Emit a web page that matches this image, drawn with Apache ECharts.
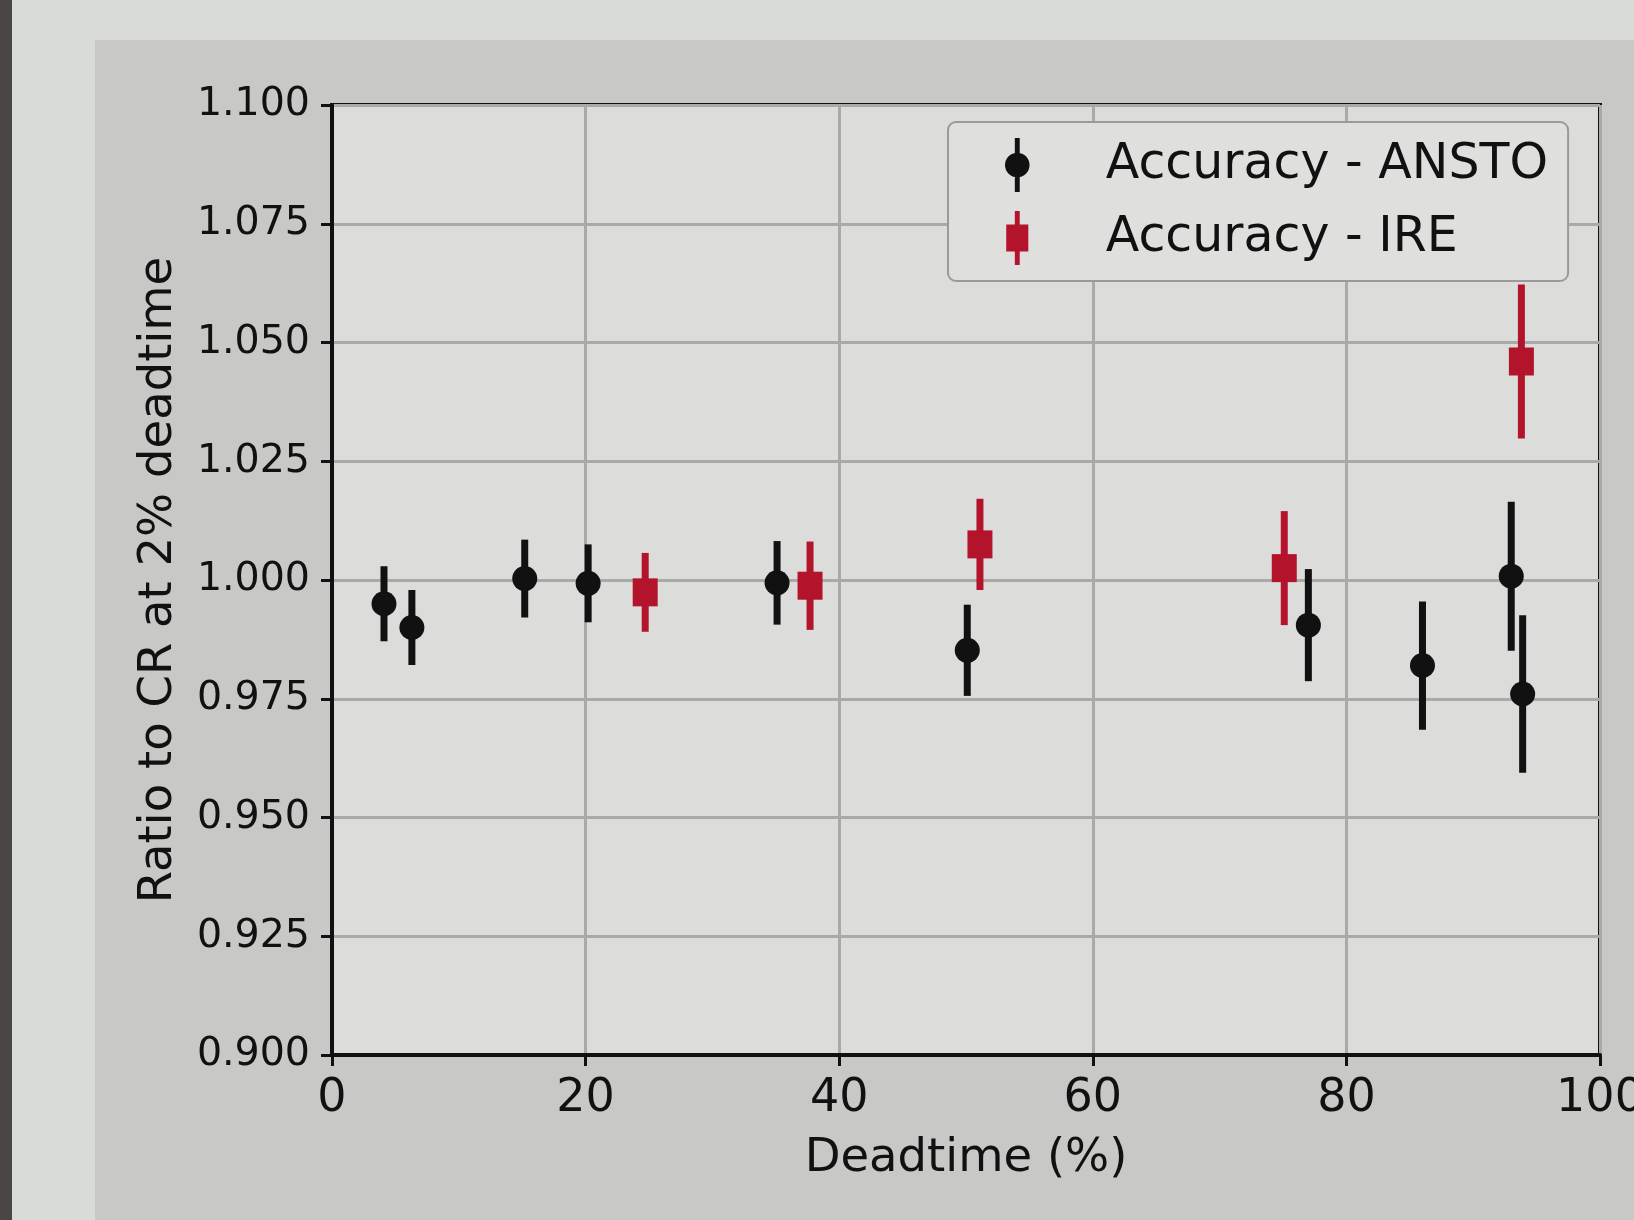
<!DOCTYPE html>
<html>
<head>
<meta charset="utf-8">
<script src="https://cdn.jsdelivr.net/npm/echarts@6/dist/echarts.min.js"></script>
<style>
  html, body { margin: 0; padding: 0; width: 1634px; height: 1220px; overflow: hidden; background: #d9dbd8; }
  #strip { position: absolute; left: 0; top: 0; width: 12px; height: 1220px; background: #4b4646; }
  #panel { position: absolute; left: 95px; top: 40px; width: 1539px; height: 1180px; background: #c8c8c6; }
  #chart { position: absolute; left: 0; top: 0; width: 1634px; height: 1220px; }
</style>
</head>
<body>
<div id="strip"></div>
<div id="panel"></div>
<div id="chart"></div>
<script>
// ---- data ----
const ansto_x   = [4.1, 6.3, 15.2, 20.2, 35.1, 50.1, 77.0, 86.0, 93.0, 93.9];
const ansto_y   = [0.995, 0.990, 1.0003, 0.9993, 0.9994, 0.9852, 0.9905, 0.9820, 1.0008, 0.9760];
const ansto_err = [0.0079, 0.0079, 0.0082, 0.0082, 0.0088, 0.0096, 0.0118, 0.0135, 0.0157, 0.0166];

const ire_x   = [24.7, 37.7, 51.1, 75.1, 93.8];
const ire_y   = [0.9974, 0.9988, 1.0075, 1.0025, 1.0460];
const ire_err = [0.0083, 0.0093, 0.0096, 0.0120, 0.0162];

const xTicks = [0, 20, 40, 60, 80, 100];
const yTickLabels = ['0.900','0.925','0.950','0.975','1.000','1.025','1.050','1.075','1.100'];

const seriesNames = ['Accuracy - ANSTO', 'Accuracy - IRE'];
const BLACK = '#111111';
const RED = '#b3142c';

function rows(xs, ys, es) { return xs.map((x, i) => [x, ys[i], es[i]]); }

function makeRender(color, shape) {
  return function (params, api) {
    const x = api.value(0), y = api.value(1), e = api.value(2);
    const top = api.coord([x, y + e]);
    const bot = api.coord([x, y - e]);
    const c = api.coord([x, y]);
    const marker = shape === 'circle'
      ? { type: 'circle', shape: { cx: c[0], cy: c[1], r: 12.5 }, style: { fill: color } }
      : { type: 'rect', shape: { x: c[0] - 12.5, y: c[1] - 14, width: 25, height: 28 }, style: { fill: color } };
    return {
      type: 'group',
      children: [
        { type: 'line', shape: { x1: top[0], y1: top[1], x2: bot[0], y2: bot[1] },
          style: { stroke: color, lineWidth: 7 } },
        marker
      ]
    };
  };
}

const circIcon = 'path://M4,0 L6,0 L6,22 L4,22 Z M5,6 A5,5 0 1,1 5,16 A5,5 0 1,1 5,6 Z';
const sqIcon = 'path://M4,0 L6,0 L6,22 L4,22 Z M0.5,5.5 L9.5,5.5 L9.5,16.5 L0.5,16.5 Z';

const chart = echarts.init(document.getElementById('chart'), null, { renderer: 'canvas' });
const FONT = 'DejaVu Sans';

chart.setOption({
  animation: false,
  textStyle: { fontFamily: FONT },
  grid: {
    left: 332, right: 34, top: 105, bottom: 165,
    outerBoundsMode: 'none', containLabel: false,
    show: true, backgroundColor: '#dcdddb', borderColor: BLACK, borderWidth: 4
  },
  legend: {
    orient: 'vertical',
    left: 948, top: 122,
    padding: [15, 20, 15, 57],
    itemWidth: 25, itemHeight: 54,
    itemGap: 17,
    backgroundColor: '#dfe0de',
    borderColor: '#9a9a9a', borderWidth: 2, borderRadius: 8,
    textStyle: { fontFamily: FONT, fontSize: 49, color: '#111', lineHeight: 56, padding: [0, 0, 0, 71] },
    data: [
      { name: seriesNames[0], icon: circIcon, itemStyle: { color: BLACK } },
      { name: seriesNames[1], icon: sqIcon, itemStyle: { color: RED } }
    ]
  },
  xAxis: {
    type: 'value', min: xTicks[0], max: xTicks[xTicks.length - 1], interval: 20,
    name: 'Deadtime (%)', nameLocation: 'middle', nameGap: 80,
    nameTextStyle: { fontFamily: FONT, fontSize: 46.5, color: '#111' },
    axisLine: { show: true, onZero: false, lineStyle: { color: BLACK, width: 4 } },
    axisTick: { show: true, length: 11, lineStyle: { color: BLACK, width: 3 } },
    axisLabel: { fontFamily: FONT, fontSize: 46, color: '#111', margin: 21 },
    splitLine: { show: true, lineStyle: { color: '#a9a9a7', width: 3 } }
  },
  yAxis: {
    type: 'value', min: 0.9, max: 1.1, interval: 0.025,
    name: 'Ratio to CR at 2% deadtime', nameLocation: 'middle', nameGap: 150,
    nameTextStyle: { fontFamily: FONT, fontSize: 46.5, color: '#111' },
    axisLine: { show: true, onZero: false, lineStyle: { color: BLACK, width: 4 } },
    axisTick: { show: true, length: 11, lineStyle: { color: BLACK, width: 3 } },
    axisLabel: {
      fontFamily: FONT, fontSize: 39.5, color: '#111', margin: 22,
      formatter: function (v) {
        const i = Math.round((v - 0.9) / 0.025);
        return yTickLabels[i] !== undefined ? yTickLabels[i] : v.toFixed(3);
      }
    },
    splitLine: { show: true, lineStyle: { color: '#a9a9a7', width: 3 } }
  },
  series: [
    {
      name: seriesNames[0], type: 'custom',
      itemStyle: { color: BLACK },
      encode: { x: 0, y: 1 },
      renderItem: makeRender(BLACK, 'circle'),
      data: rows(ansto_x, ansto_y, ansto_err), z: 3
    },
    {
      name: seriesNames[1], type: 'custom',
      itemStyle: { color: RED },
      encode: { x: 0, y: 1 },
      renderItem: makeRender(RED, 'square'),
      data: rows(ire_x, ire_y, ire_err), z: 2
    }
  ]
});
</script>
</body>
</html>
